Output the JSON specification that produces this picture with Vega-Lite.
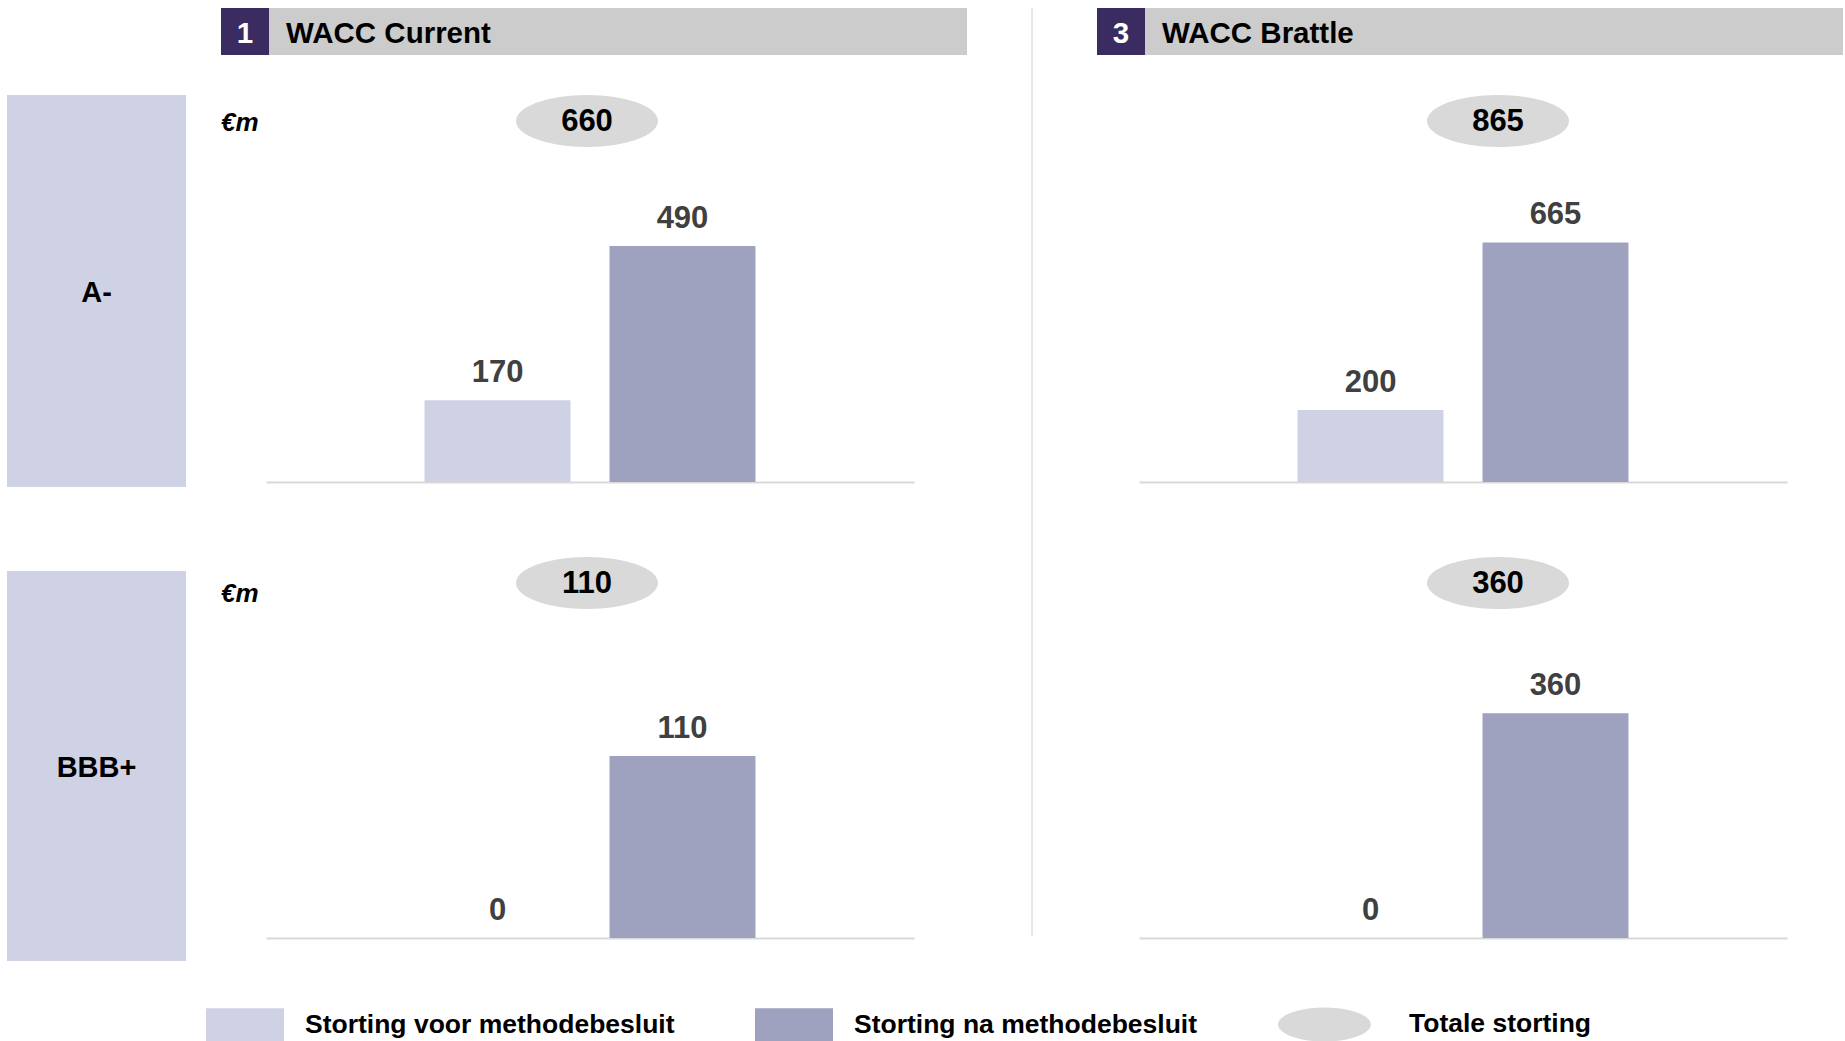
{
  "$schema": "https://vega.github.io/schema/vega-lite/v6.json",
  "padding": {"left": 7, "top": 7, "right": 0, "bottom": 0},
  "background": "white",
  "config": {
    "font": "Liberation Sans",
    "view": {"stroke": null},
    "text": {"fontSize": 29, "fontWeight": "bold", "color": "#000000", "baseline": "middle", "dy": 2}
  },
  "datasets": {
    "bars": [
      {"rating": "A-", "scenario": "WACC Current", "cat": "Storting voor methodebesluit", "value": 170},
      {"rating": "A-", "scenario": "WACC Current", "cat": "Storting na methodebesluit", "value": 490},
      {"rating": "A-", "scenario": "WACC Brattle", "cat": "Storting voor methodebesluit", "value": 200},
      {"rating": "A-", "scenario": "WACC Brattle", "cat": "Storting na methodebesluit", "value": 665},
      {"rating": "BBB+", "scenario": "WACC Current", "cat": "Storting voor methodebesluit", "value": 0},
      {"rating": "BBB+", "scenario": "WACC Current", "cat": "Storting na methodebesluit", "value": 110},
      {"rating": "BBB+", "scenario": "WACC Brattle", "cat": "Storting voor methodebesluit", "value": 0},
      {"rating": "BBB+", "scenario": "WACC Brattle", "cat": "Storting na methodebesluit", "value": 360}
    ],
    "totals": [
      {"rating": "A-", "scenario": "WACC Current", "total": 660},
      {"rating": "A-", "scenario": "WACC Brattle", "total": 865},
      {"rating": "BBB+", "scenario": "WACC Current", "total": 110},
      {"rating": "BBB+", "scenario": "WACC Brattle", "total": 360}
    ],
    "ratings": [{"rating": "A-"}, {"rating": "BBB+"}],
    "headers": [
      {"num": "1", "scenario": "WACC Current"},
      {"num": "3", "scenario": "WACC Brattle"}
    ]
  },
  "spacing": 35,
  "hconcat": [
    {
      "spacing": 0,
      "vconcat": [
        {"width": 179, "height": 87, "data": {"values": []}, "mark": "rect"},
        {
          "spacing": 84,
          "vconcat": [
            {
              "width": 179, "height": 392,
              "view": {"fill": "#cfd2e5"},
              "data": {"name": "ratings"},
              "transform": [{"filter": "datum.rating === 'A-'"}],
              "mark": {"type": "text"},
              "encoding": {"text": {"field": "rating"}}
            },
            {
              "width": 179, "height": 390,
              "view": {"fill": "#cfd2e5"},
              "data": {"name": "ratings"},
              "transform": [{"filter": "datum.rating === 'BBB+'"}],
              "mark": {"type": "text"},
              "encoding": {"text": {"field": "rating"}}
            }
          ]
        }
      ]
    },
    {
      "spacing": 64,
      "hconcat": [
        {
          "spacing": 40,
          "vconcat": [
            {
              "spacing": 0,
              "hconcat": [
                {
                  "width": 48, "height": 47,
                  "view": {"fill": "#3a2c60"},
                  "data": {"name": "headers"},
                  "transform": [{"filter": "datum.num === '1'"}],
                  "mark": {"type": "text", "color": "#ffffff", "fontSize": 29.5},
                  "encoding": {"text": {"field": "num"}}
                },
                {
                  "width": 698, "height": 47,
                  "view": {"fill": "#cccccc"},
                  "data": {"name": "headers"},
                  "transform": [{"filter": "datum.num === '1'"}],
                  "mark": {"type": "text", "align": "left", "fontSize": 29.5},
                  "encoding": {"text": {"field": "scenario"}, "x": {"value": 17}}
                }
              ]
            },
            {
              "spacing": 75,
              "vconcat": [
                {
                  "spacing": 0,
                  "vconcat": [
                    {
                      "width": 746, "height": 52,
                      "data": {"name": "totals"},
                      "transform": [{"filter": "datum.rating === 'A-' && datum.scenario === 'WACC Current'"}],
                      "layer": [
                        {
                          "mark": {"type": "point", "shape": "M-1,0A1,0.366,0,1,1,1,0A1,0.366,0,1,1,-1,0Z", "size": 20164, "filled": true, "opacity": 1, "strokeWidth": 0},
                          "encoding": {
                            "x": {"value": 366},
                            "color": {"datum": "Totale storting", "type": "nominal",
                              "scale": {"domain": ["Storting voor methodebesluit", "Storting na methodebesluit", "Totale storting"], "range": ["#cfd2e5", "#9ea2be", "#d9d9d9"]}}
                          }
                        },
                        {"mark": {"type": "text", "fontSize": 31, "dy": 1}, "encoding": {"x": {"value": 366}, "text": {"field": "total"}}},
                        {"mark": {"type": "text", "align": "left", "fontStyle": "italic", "fontSize": 26}, "encoding": {"x": {"value": 0}, "text": {"value": "€m"}}}
                      ]
                    },
                    {
                      "width": 746, "height": 335,
                      "data": {"name": "bars"},
                      "transform": [{"filter": "datum.rating === 'A-' && datum.scenario === 'WACC Current'"}],
                      "encoding": {
                        "x": {"field": "cat", "type": "nominal", "sort": ["Storting voor methodebesluit", "Storting na methodebesluit"],
                          "scale": {"domain": ["Storting voor methodebesluit", "Storting na methodebesluit"], "range": [45, 693], "paddingInner": 0.211, "paddingOuter": 0.857},
                          "axis": {"domainColor": "#d9d9d9", "domainWidth": 2, "ticks": false, "labels": false, "title": null, "grid": false}},
                        "y": {"field": "value", "type": "quantitative", "scale": {"domain": [0, 695.6], "nice": false}, "axis": null}
                      },
                      "layer": [
                        {
                          "mark": {"type": "bar"},
                          "encoding": {
                            "color": {"field": "cat", "type": "nominal",
                              "scale": {"domain": ["Storting voor methodebesluit", "Storting na methodebesluit", "Totale storting"], "range": ["#cfd2e5", "#9ea2be", "#d9d9d9"]},
                              "legend": {
                                "title": null, "orient": "none", "legendX": 199, "legendY": 977, "direction": "horizontal",
                                "symbolType": "M-1,-0.423H1V0.423H-1Z", "symbolSize": 6084, "symbolStrokeWidth": 0, "symbolOpacity": 1,
                                "labelFont": "Liberation Sans", "labelFontSize": 26.5, "labelFontWeight": "bold", "labelColor": "#000000",
                                "labelOffset": 21, "columnPadding": 80, "labelLimit": 0,
                                "encode": {
                                  "symbols": {"update": {"shape": {"signal": "datum.value === 'Totale storting' ? 'M-1,0A1.19,0.436,0,1,1,1.38,0A1.19,0.436,0,1,1,-1,0Z' : 'M-1,-0.423H1V0.423H-1Z'"}}},
                                  "labels": {"update": {"dx": {"signal": "datum.value === 'Totale storting' ? 32 : 0"}}}
                                }
                              }
                            }
                          }
                        },
                        {"mark": {"type": "text", "baseline": "alphabetic", "dy": -18, "color": "#404040", "fontSize": 31}, "encoding": {"text": {"field": "value"}}}
                      ]
                    }
                  ]
                },
                {
                  "spacing": 0,
                  "vconcat": [
                    {
                      "width": 746, "height": 52,
                      "data": {"name": "totals"},
                      "transform": [{"filter": "datum.rating === 'BBB+' && datum.scenario === 'WACC Current'"}],
                      "layer": [
                        {
                          "mark": {"type": "point", "shape": "M-1,0A1,0.366,0,1,1,1,0A1,0.366,0,1,1,-1,0Z", "size": 20164, "filled": true, "opacity": 1, "strokeWidth": 0},
                          "encoding": {
                            "x": {"value": 366},
                            "color": {"datum": "Totale storting", "type": "nominal"}
                          }
                        },
                        {"mark": {"type": "text", "fontSize": 31, "dy": 1}, "encoding": {"x": {"value": 366}, "text": {"field": "total"}}},
                        {"mark": {"type": "text", "align": "left", "fontStyle": "italic", "fontSize": 26, "dy": 11}, "encoding": {"x": {"value": 0}, "text": {"value": "€m"}}}
                      ]
                    },
                    {
                      "width": 746, "height": 329,
                      "data": {"name": "bars"},
                      "transform": [{"filter": "datum.rating === 'BBB+' && datum.scenario === 'WACC Current'"}],
                      "encoding": {
                        "x": {"field": "cat", "type": "nominal", "sort": ["Storting voor methodebesluit", "Storting na methodebesluit"],
                          "scale": {"domain": ["Storting voor methodebesluit", "Storting na methodebesluit"], "range": [45, 693], "paddingInner": 0.211, "paddingOuter": 0.857},
                          "axis": {"domainColor": "#d9d9d9", "domainWidth": 2, "ticks": false, "labels": false, "title": null, "grid": false}},
                        "y": {"field": "value", "type": "quantitative", "scale": {"domain": [0, 198.8], "nice": false}, "axis": null}
                      },
                      "layer": [
                        {"mark": {"type": "bar"}, "encoding": {"color": {"field": "cat", "type": "nominal"}}},
                        {"mark": {"type": "text", "baseline": "alphabetic", "dy": -18, "color": "#404040", "fontSize": 31}, "encoding": {"text": {"field": "value"}}}
                      ]
                    }
                  ]
                }
              ]
            }
          ]
        },
        {
          "spacing": 64,
          "hconcat": [
            {
              "width": 1, "height": 928,
              "data": {"values": [{}]},
              "mark": {"type": "rule", "color": "#d0d0d0", "strokeWidth": 1},
              "encoding": {"x": {"value": 0}, "y": {"value": 0}, "y2": {"value": "height"}}
            },
            {
              "spacing": 40,
              "vconcat": [
                {
                  "spacing": 0,
                  "hconcat": [
                    {
                      "width": 48, "height": 47,
                      "view": {"fill": "#3a2c60"},
                      "data": {"name": "headers"},
                      "transform": [{"filter": "datum.num === '3'"}],
                      "mark": {"type": "text", "color": "#ffffff", "fontSize": 29.5},
                      "encoding": {"text": {"field": "num"}}
                    },
                    {
                      "width": 698, "height": 47,
                      "view": {"fill": "#cccccc"},
                      "data": {"name": "headers"},
                      "transform": [{"filter": "datum.num === '3'"}],
                      "mark": {"type": "text", "align": "left", "fontSize": 29.5},
                      "encoding": {"text": {"field": "scenario"}, "x": {"value": 17}}
                    }
                  ]
                },
                {
                  "spacing": 75,
                  "vconcat": [
                    {
                      "spacing": 0,
                      "vconcat": [
                        {
                          "width": 746, "height": 52,
                          "data": {"name": "totals"},
                          "transform": [{"filter": "datum.rating === 'A-' && datum.scenario === 'WACC Brattle'"}],
                          "layer": [
                            {
                              "mark": {"type": "point", "shape": "M-1,0A1,0.366,0,1,1,1,0A1,0.366,0,1,1,-1,0Z", "size": 20164, "filled": true, "opacity": 1, "strokeWidth": 0},
                              "encoding": {"x": {"value": 401}, "color": {"datum": "Totale storting", "type": "nominal"}}
                            },
                            {"mark": {"type": "text", "fontSize": 31, "dy": 1}, "encoding": {"x": {"value": 401}, "text": {"field": "total"}}}
                          ]
                        },
                        {
                          "width": 746, "height": 335,
                          "data": {"name": "bars"},
                          "transform": [{"filter": "datum.rating === 'A-' && datum.scenario === 'WACC Brattle'"}],
                          "encoding": {
                            "x": {"field": "cat", "type": "nominal", "sort": ["Storting voor methodebesluit", "Storting na methodebesluit"],
                              "scale": {"domain": ["Storting voor methodebesluit", "Storting na methodebesluit"], "range": [42, 690], "paddingInner": 0.211, "paddingOuter": 0.857},
                              "axis": {"domainColor": "#d9d9d9", "domainWidth": 2, "ticks": false, "labels": false, "title": null, "grid": false}},
                            "y": {"field": "value", "type": "quantitative", "scale": {"domain": [0, 930], "nice": false}, "axis": null}
                          },
                          "layer": [
                            {"mark": {"type": "bar"}, "encoding": {"color": {"field": "cat", "type": "nominal"}}},
                            {"mark": {"type": "text", "baseline": "alphabetic", "dy": -18, "color": "#404040", "fontSize": 31}, "encoding": {"text": {"field": "value"}}}
                          ]
                        }
                      ]
                    },
                    {
                      "spacing": 0,
                      "vconcat": [
                        {
                          "width": 746, "height": 52,
                          "data": {"name": "totals"},
                          "transform": [{"filter": "datum.rating === 'BBB+' && datum.scenario === 'WACC Brattle'"}],
                          "layer": [
                            {
                              "mark": {"type": "point", "shape": "M-1,0A1,0.366,0,1,1,1,0A1,0.366,0,1,1,-1,0Z", "size": 20164, "filled": true, "opacity": 1, "strokeWidth": 0},
                              "encoding": {"x": {"value": 401}, "color": {"datum": "Totale storting", "type": "nominal"}}
                            },
                            {"mark": {"type": "text", "fontSize": 31, "dy": 1}, "encoding": {"x": {"value": 401}, "text": {"field": "total"}}}
                          ]
                        },
                        {
                          "width": 746, "height": 329,
                          "data": {"name": "bars"},
                          "transform": [{"filter": "datum.rating === 'BBB+' && datum.scenario === 'WACC Brattle'"}],
                          "encoding": {
                            "x": {"field": "cat", "type": "nominal", "sort": ["Storting voor methodebesluit", "Storting na methodebesluit"],
                              "scale": {"domain": ["Storting voor methodebesluit", "Storting na methodebesluit"], "range": [42, 690], "paddingInner": 0.211, "paddingOuter": 0.857},
                              "axis": {"domainColor": "#d9d9d9", "domainWidth": 2, "ticks": false, "labels": false, "title": null, "grid": false}},
                            "y": {"field": "value", "type": "quantitative", "scale": {"domain": [0, 527], "nice": false}, "axis": null}
                          },
                          "layer": [
                            {"mark": {"type": "bar"}, "encoding": {"color": {"field": "cat", "type": "nominal"}}},
                            {"mark": {"type": "text", "baseline": "alphabetic", "dy": -18, "color": "#404040", "fontSize": 31}, "encoding": {"text": {"field": "value"}}}
                          ]
                        }
                      ]
                    }
                  ]
                }
              ]
            }
          ]
        }
      ]
    }
  ]
}
